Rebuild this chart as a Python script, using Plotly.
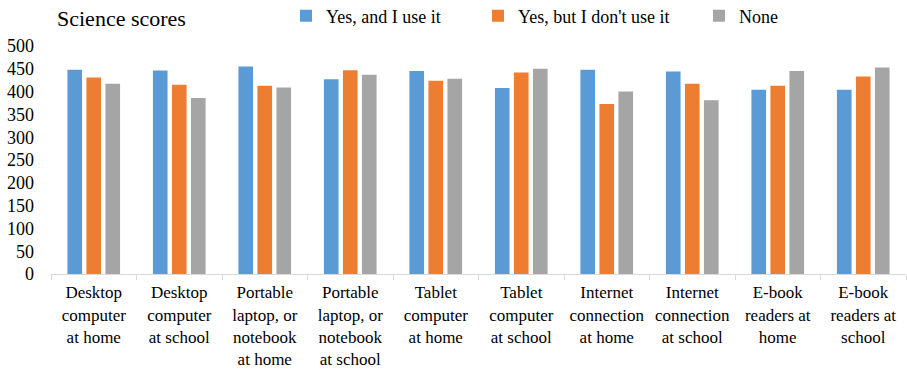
import plotly.graph_objects as go

categories = [
    "Desktop<br>computer<br>at home",
    "Desktop<br>computer<br>at school",
    "Portable<br>laptop, or<br>notebook<br>at home",
    "Portable<br>laptop, or<br>notebook<br>at school",
    "Tablet<br>computer<br>at home",
    "Tablet<br>computer<br>at school",
    "Internet<br>connection<br>at home",
    "Internet<br>connection<br>at school",
    "E-book<br>readers at<br>home",
    "E-book<br>readers at<br>school",
]
series_names = ["Yes, and I use it", "Yes, but I don't use it", "None"]
yes_use = [448, 446, 455, 427, 445, 408, 448, 444, 404, 404]
yes_no_use = [431, 415, 413, 447, 424, 442, 373, 417, 413, 433]
none_vals = [417, 386, 409, 437, 428, 450, 400, 381, 445, 453]
y_ticks = [0, 50, 100, 150, 200, 250, 300, 350, 400, 450, 500]

colors = ["#5B9BD5", "#ED7D31", "#A5A5A5"]
FONT = "Liberation Serif"
W, H = 907, 371

fig = go.Figure()
legends = ["legend", "legend2", "legend3"]
for name, vals, col, lg in zip(series_names, [yes_use, yes_no_use, none_vals], colors, legends):
    fig.add_trace(go.Bar(x=categories, y=vals, name=name, marker_color=col,
                         marker_line_width=0, legend=lg))

def leg(xpx):
    return dict(x=xpx / W, xref="container", xanchor="left",
                y=1 - 16 / H, yref="container", yanchor="middle",
                orientation="h", font=dict(family=FONT, size=18, color="#000"),
                bgcolor="rgba(0,0,0,0)", borderwidth=0, itemwidth=30)

fig.update_layout(
    width=W, height=H,
    margin=dict(l=51, r=1, t=46, b=97),
    paper_bgcolor="white", plot_bgcolor="white",
    barmode="group", bargap=0.333, bargroupgap=0.23,
    font=dict(family=FONT, size=18, color="#000"),
    title=dict(text="Science scores", x=57 / W, xref="container", xanchor="left",
               y=1 - 18 / H, yref="container", yanchor="middle",
               font=dict(family=FONT, size=22, color="#000")),
    legend=leg(286), legend2=leg(478), legend3=leg(699),
    showlegend=True,
)
fig.update_yaxes(range=[0, 500], tickvals=y_ticks, showgrid=False, zeroline=False,
                 showline=False, ticks="", ticklabelstandoff=16, automargin=False,
                 tickfont=dict(family=FONT, size=18, color="#000"))
fig.update_xaxes(showline=True, linecolor="#D9D9D9", linewidth=1,
                 ticks="outside", tickson="boundaries", ticklen=5, tickcolor="#D9D9D9",
                 tickangle=0, showgrid=False, ticklabelstandoff=3, automargin=False,
                 tickfont=dict(family=FONT, size=17, color="#000"))
fig.write_html("out.html")
